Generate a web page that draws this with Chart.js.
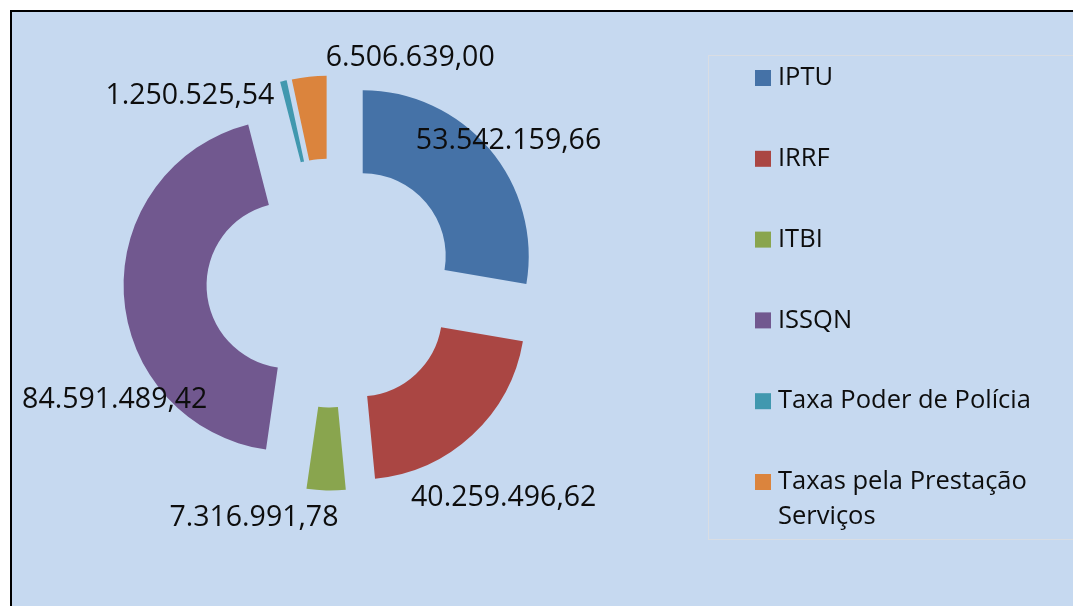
<!DOCTYPE html>
<html>
<head>
<meta charset="utf-8">
<script src="https://cdn.jsdelivr.net/npm/chart.js@4/dist/chart.umd.min.js"></script>
<style>
  html, body { margin: 0; padding: 0; background: #fff; }
  #wrap { width: 1073px; height: 606px; position: relative; }
</style>
</head>
<body>
<div id="wrap"><canvas id="receitaChart"></canvas></div>
<script>
// dados
const categorias = ['IPTU', 'IRRF', 'ITBI', 'ISSQN', 'Taxa Poder de Polícia', 'Taxas pela Prestação Serviços'];
const valores = [53542159.66, 40259496.62, 7316991.78, 84591489.42, 1250525.54, 6506639.00];
const cores = ['#4572A7', '#AA4643', '#89A54E', '#71588F', '#4198AF', '#DB843D'];

// posicao dos rotulos: giro (graus) e distancia (x raio externo)
const rotuloGiro = [1.5, 4.1, 16.8, -25.2, -23.8, 25.4];
const rotuloDist = [1.37, 1.66, 1.49, 1.48, 1.41, 1.44];
const explosao = 0.25;

const FONTE = '"Open Sans", "Liberation Sans", sans-serif';

function formatarBR(v) {
  const partes = v.toFixed(2).split('.');
  const inteiro = partes[0].replace(/\B(?=(\d{3})+(?!\d))/g, '.');
  return inteiro + ',' + partes[1];
}

// fundo e moldura
const fundo = {
  id: 'fundo',
  beforeDraw(chart) {
    const {ctx, width, height} = chart;
    ctx.save();
    ctx.fillStyle = '#ffffff';
    ctx.fillRect(0, 0, width, height);
    ctx.fillStyle = '#c6d9f0';
    ctx.fillRect(11, 11, width, height);
    ctx.strokeStyle = '#000000';
    ctx.lineWidth = 2;
    ctx.beginPath();
    ctx.moveTo(11, height + 2);
    ctx.lineTo(11, 11);
    ctx.lineTo(width + 2, 11);
    ctx.stroke();
    ctx.restore();
  }
};

// fatias destacadas (explodidas) a partir do centro
const destaque = {
  id: 'destaque',
  beforeDatasetsDraw(chart) {
    const area = chart.chartArea;
    const cx = (area.left + area.right) / 2;
    const cy = (area.top + area.bottom) / 2;
    chart.getDatasetMeta(0).data.forEach(arc => {
      const meio = (arc.startAngle + arc.endAngle) / 2;
      const d = explosao * arc.outerRadius;
      arc.x = cx + Math.cos(meio) * d;
      arc.y = cy + Math.sin(meio) * d;
    });
  },
  afterDatasetsDraw(chart) {
    const {ctx} = chart;
    const area = chart.chartArea;
    const cx = (area.left + area.right) / 2;
    const cy = (area.top + area.bottom) / 2;
    ctx.save();
    ctx.font = '28.5px ' + FONTE;
    ctx.fillStyle = '#0d0d0d';
    ctx.textAlign = 'center';
    ctx.textBaseline = 'middle';
    chart.getDatasetMeta(0).data.forEach((arc, i) => {
      const ang = (arc.startAngle + arc.endAngle) / 2 + rotuloGiro[i] * Math.PI / 180;
      const r = rotuloDist[i] * arc.outerRadius;
      ctx.fillText(formatarBR(valores[i]), cx + Math.cos(ang) * r, cy + Math.sin(ang) * r);
    });
    ctx.restore();
  }
};

// legenda a direita
const legenda = {
  id: 'legenda',
  afterDraw(chart) {
    const {ctx, width} = chart;
    const ds = chart.data.datasets[0];
    ctx.save();
    ctx.strokeStyle = '#d9dde3';
    ctx.lineWidth = 1;
    ctx.strokeRect(708.5, 55.5, width, 484);
    ctx.font = '25.5px ' + FONTE;
    ctx.textBaseline = 'middle';
    ctx.textAlign = 'left';
    const xq = 755, xt = 778, maxLarg = width - xt - 8;
    chart.data.labels.forEach((txt, i) => {
      const y = 78 + i * 80.8;
      ctx.fillStyle = ds.backgroundColor[i];
      ctx.fillRect(xq, y - 8, 16, 16);
      ctx.fillStyle = '#0d0d0d';
      const palavras = txt.split(' ');
      const linhas = [];
      let atual = '';
      palavras.forEach(p => {
        const teste = atual ? atual + ' ' + p : p;
        if (ctx.measureText(teste).width > maxLarg && atual) {
          linhas.push(atual);
          atual = p;
        } else {
          atual = teste;
        }
      });
      linhas.push(atual);
      linhas.forEach((l, k) => ctx.fillText(l, xt, y + k * 35));
    });
    ctx.restore();
  }
};

new Chart(document.getElementById('receitaChart'), {
  type: 'doughnut',
  data: {
    labels: categorias,
    datasets: [{
      data: valores,
      backgroundColor: cores,
      borderWidth: 0,
      hoverOffset: 0
    }]
  },
  options: {
    responsive: true,
    maintainAspectRatio: false,
    animation: false,
    events: [],
    cutout: '50%',
    layout: {
      padding: {top: 117, bottom: 157, left: 161, right: 572}
    },
    plugins: {
      legend: {display: false},
      tooltip: {enabled: false}
    }
  },
  plugins: [fundo, destaque, legenda]
});
</script>
</body>
</html>
